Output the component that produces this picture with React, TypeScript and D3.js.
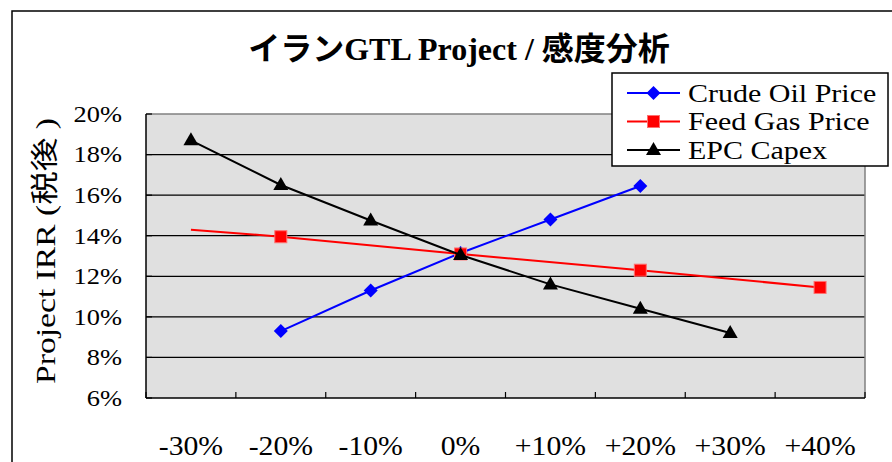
import React from "react";
import * as d3 from "d3";

const categories = ["-30%", "-20%", "-10%", "0%", "+10%", "+20%", "+30%", "+40%"];
const crudeOil = [null, 9.3, 11.3, 13.15, 14.8, 16.45, null, null];
const feedGas = [14.3, 13.95, null, 13.1, null, 12.3, null, 11.45];
const epcCapex = [18.7, 16.5, 14.75, 13.05, 11.6, 10.4, 9.2, null];
const yTicks = [6, 8, 10, 12, 14, 16, 18, 20];
// Excel left the first Feed Gas point without a marker
const feedGasNoMarker = ["-30%"];

const serif = "'Liberation Serif', 'Noto Sans CJK JP', serif";

type Pt = { cat: string; v: number };

const toPoints = (vals: (number | null)[]): Pt[] =>
    vals
        .map((v, i) => ({ cat: categories[i], v }))
        .filter(d => d.v !== null) as Pt[];

// the original Century-style font is wider than Times, so stretch horizontally
const Wide: React.FC<{ x: number; y: number; sx: number; size: number; anchor?: string; dy?: string; rotate?: number; children: React.ReactNode }> =
    ({ x, y, sx, size, anchor = "start", dy, rotate = 0, children }) => (
        <text
            transform={`translate(${x},${y}) rotate(${rotate}) scale(${sx},1)`}
            textAnchor={anchor}
            dy={dy}
            fontFamily={serif}
            fontSize={size}
        >
            {children}
        </text>
    );

const App: React.FC = () => {
    const width = 892;
    const height = 462;
    const plot = { left: 146, right: 865, top: 114, bottom: 398 };

    const x = d3.scaleBand().domain(categories).range([plot.left, plot.right]);
    const y = d3.scaleLinear().domain([6, 20]).range([plot.bottom, plot.top]);
    const cx = (c: string) => (x(c) || 0) + x.bandwidth() / 2;

    const line = d3.line<Pt>().x(d => cx(d.cat)).y(d => y(d.v));

    const series = [
        { name: "Crude Oil Price", color: "#0000FF", pts: toPoints(crudeOil), marker: "diamond" },
        { name: "Feed Gas Price", color: "#FF0000", pts: toPoints(feedGas), marker: "square" },
        { name: "EPC Capex", color: "#000000", pts: toPoints(epcCapex), marker: "triangle" }
    ];

    const marker = (kind: string, px: number, py: number, color: string, key: string) => {
        if (kind === "diamond") {
            return <path key={key} d={`M${px},${py - 7}L${px + 7},${py}L${px},${py + 7}L${px - 7},${py}Z`} fill={color} />;
        }
        if (kind === "square") {
            return <rect key={key} x={px - 6} y={py - 6} width={12} height={12} fill={color} stroke="#FF7070" strokeWidth={1} />;
        }
        return <path key={key} d={`M${px},${py - 8}L${px + 7.5},${py + 5}L${px - 7.5},${py + 5}Z`} fill={color} />;
    };

    const xTickPos = categories.map(c => x(c) || 0).concat([plot.right]);

    return (
        <svg width={width} height={height} style={{ position: "absolute", left: 0, top: 0, background: "#fff" }}>
            {/* outer chart frame */}
            <rect x={12} y={11} width={width + 20} height={height + 20} fill="#fff" stroke="#000" strokeWidth={1.5} />

            <text x={459} y={60} textAnchor="middle" fontFamily={serif} fontWeight="bold" fontSize={32}>
                イランGTL Project / 感度分析
            </text>

            {/* plot area */}
            <rect x={plot.left} y={plot.top} width={plot.right - plot.left} height={plot.bottom - plot.top} fill="#E0E0E0" />
            {yTicks.filter(t => t > 6 && t < 20).map(t => (
                <line key={t} x1={plot.left} x2={plot.right} y1={y(t)} y2={y(t)} stroke="#000" strokeWidth={1.2} />
            ))}
            <line x1={plot.left} x2={plot.right} y1={plot.top} y2={plot.top} stroke="#808080" strokeWidth={1.5} />
            <line x1={plot.right} x2={plot.right} y1={plot.top} y2={plot.bottom} stroke="#808080" strokeWidth={1.5} />
            <line x1={plot.left} x2={plot.left} y1={plot.top} y2={plot.bottom} stroke="#000" strokeWidth={1.5} />
            <line x1={plot.left} x2={plot.right} y1={plot.bottom} y2={plot.bottom} stroke="#000" strokeWidth={1.5} />
            {yTicks.map(t => (
                <line key={"yt" + t} x1={plot.left} x2={plot.left + 6} y1={y(t)} y2={y(t)} stroke="#000" strokeWidth={1.2} />
            ))}
            {xTickPos.map((p, i) => (
                <line key={"xt" + i} x1={p} x2={p} y1={plot.bottom} y2={plot.bottom - 6} stroke="#000" strokeWidth={1.2} />
            ))}

            {/* y tick labels */}
            {yTicks.map(t => (
                <Wide key={"yl" + t} x={122} y={y(t)} sx={1.15} size={23} anchor="end" dy="0.34em">
                    {t}%
                </Wide>
            ))}
            {/* x tick labels */}
            {categories.map(c => (
                <Wide key={"xl" + c} x={cx(c)} y={455} sx={1.1} size={27} anchor="middle">
                    {c}
                </Wide>
            ))}

            <Wide x={55} y={251} rotate={-90} sx={1.2} size={28} anchor="middle">
                Project IRR (税後 )
            </Wide>

            {/* series */}
            {series.map(s => (
                <g key={s.name}>
                    <path d={line(s.pts) || ""} fill="none" stroke={s.color} strokeWidth={2} />
                    {s.pts
                        .filter(p => !(s.marker === "square" && feedGasNoMarker.includes(p.cat)))
                        .map(p => marker(s.marker, cx(p.cat), y(p.v), s.color, s.name + p.cat))}
                </g>
            ))}

            {/* legend */}
            <rect x={612} y={73} width={276} height={93} fill="#fff" stroke="#000" strokeWidth={1.5} />
            {series.map((s, i) => {
                const ly = 93 + i * 28.5;
                return (
                    <g key={"lg" + s.name}>
                        <line x1={627} x2={680} y1={ly} y2={ly} stroke={s.color} strokeWidth={2} />
                        {marker(s.marker, 653.5, ly, s.color, "lm" + i)}
                        <Wide x={688} y={ly} sx={1.2} size={25} dy="0.34em">
                            {s.name}
                        </Wide>
                    </g>
                );
            })}
        </svg>
    );
};

export default App;
